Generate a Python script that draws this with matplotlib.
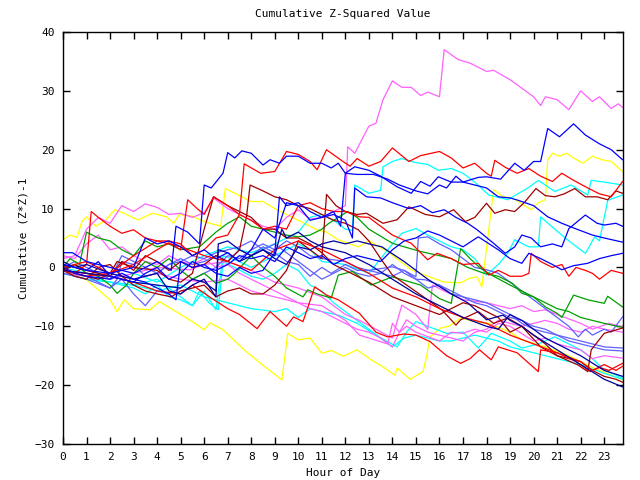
import matplotlib
matplotlib.use("Agg")
import matplotlib.pyplot as plt

# ---- data: (hour, cumulative value) knots ----
m1 = [(0,1.5),(0.5,2),(1,6.5),(1.5,8.5),(2,7.5),(2.5,10.5),(3,9.5),(3.5,10.8),(4,10.2),(4.5,9),(5,9.2),(5.5,8.5),(6,9.3),(6.4,11.8),(7,10),(7.5,9),(8,8),(8.5,7),(9,6.5),(9.5,8.5),(10,9.8),(10.5,8.2),(11,8.5),(11.5,9.5),(12,10.5),(12.1,20.5),(12.4,19.4),(13,24),(13.3,24.5),(13.6,28.5),(14,31.7),(14.4,30.6),(14.8,30.6),(15.2,29.2),(15.5,29.8),(16,29),(16.2,37),(16.8,35.3),(17.3,34.7),(18,33.3),(18.3,33.5),(19,31.9),(20,29),(20.3,27.5),(20.5,29),(21,28.5),(21.5,26.8),(22,30),(22.5,28.2),(22.8,29),(23.3,27),(23.6,27.8),(23.78,27.2)]
m2 = [(0,-0.5),(1,-1),(2,-2),(3,-1),(4,0),(5,-0.3),(5.4,-0.4),(6,0.5),(7,1),(8,-0.5),(9,-2.5),(10,-3.5),(11,-5),(12,-8),(12.6,-9),(13.3,-10.5),(14,-12),(14.4,-6.4),(15,-8),(15.5,-10.5),(15.7,-3),(16.2,-4),(17,-5.5),(18,-6),(19,-7),(19.5,-6.5),(20,-7.5),(20.5,-7.2),(21,-8),(22,-9.5),(22.5,-10.5),(23.2,-9.5),(23.78,-10.1)]
m3 = [(0,-1),(1,-1.5),(2,-1),(3,-2),(4,-1),(5,-2),(6,-2.5),(7,-2),(8,-4),(9,-5),(10,-6),(11,-6.5),(12,-9),(12.6,-11.5),(13.8,-13),(14,-9.5),(14.3,-11),(14.6,-10),(15,-11),(16,-12.5),(16.5,-11),(17,-11.2),(17.5,-10.5),(18,-11),(18.5,-9.5),(19,-10),(20,-12.5),(20.5,-12),(21,-13),(21.5,-13.5),(22,-14),(22.5,-15.5),(23,-15),(23.78,-15.4)]
m4 = [(0,2),(0.5,1.5),(1,4),(1.5,5.5),(2,3),(2.5,3.5),(3,2),(3.5,1),(4,0.5),(4.5,2),(5,1),(5.5,0.5),(6,1.5),(6.5,0),(7,0.5),(7.5,-1),(8,-2),(8.5,-3),(9,-4),(9.5,-5),(10,-6),(10.5,-7),(11,-7.5),(11.5,-8.5),(12,-9.5),(12.5,-10.5),(13,-11),(13.5,-12),(14,-13.5),(14.3,-11),(14.6,-8.9),(15,-10),(15.5,-11),(16,-11.5),(16.5,-12),(17,-12.5),(17.5,-11),(18,-10.5),(18.5,-9),(19,-9.5),(19.5,-10),(20,-9.5),(20.5,-9),(21,-9.5),(21.5,-10.5),(22,-11),(22.5,-10),(23,-10.5),(23.78,-11)]
b1 = [(0,2.5),(0.4,2.5),(1,1),(2,0),(3,-1),(4,1),(4.6,-0.5),(4.8,7),(5.3,6),(5.8,4),(6,14),(6.3,13.5),(6.8,16),(7,19.5),(7.3,18.6),(7.6,19.8),(8,19.4),(8.5,17.4),(8.8,18.3),(9.2,17.7),(9.5,18.9),(10,18.9),(10.5,17.7),(11,17.7),(11.4,16.9),(11.7,17.7),(12,16),(12.4,17.1),(13,16.5),(13.5,15.5),(14.2,13.7),(14.8,12.6),(15.2,14.6),(15.6,13.8),(15.95,15.4),(16.5,14.5),(17,14.5),(17.65,15.3),(18,15.4),(18.6,15),(19.2,17.7),(19.6,16.5),(20,18),(20.3,18),(20.6,23.6),(21.1,22.2),(21.7,24.4),(22.2,22.5),(22.8,21),(23.3,20),(23.78,18.3)]
b2 = [(0,0),(0.5,-1),(1,-1.5),(2,-2),(2.5,-1),(3,-2),(3.5,-2.5),(4,-3.5),(4.5,-4.5),(4.8,-5.5),(5,1),(5.5,0),(6,0.5),(6.5,-1),(7,-1.5),(7.5,0),(8,-1),(8.5,-0.5),(9,2.5),(9.2,12),(9.5,10.5),(10,11),(10.5,9.5),(11,8.5),(11.5,9),(12,8),(12.3,5),(12.4,13.5),(12.9,12),(13.5,11.8),(14,11),(14.7,10),(15.2,10.5),(15.7,9.3),(16.2,9.8),(16.7,8.5),(17.2,7.5),(17.6,6.4),(18.3,4.1),(18.8,2.4),(19.2,3.5),(19.5,5.5),(19.9,5),(20.3,3.5),(20.8,4),(21.2,3.5),(21.5,6.6),(22.2,8.9),(22.7,7.5),(23,7.2),(23.5,7.5),(23.78,7)]
b3 = [(0,0.5),(1,-0.5),(2,-1),(3,0),(3.5,5),(4,4),(4.5,4.5),(5,3.5),(5.5,2),(6,3),(6.5,1.5),(7,2.5),(7.5,1),(8,3),(8.5,6.5),(9,5),(9.5,11),(10,10.5),(10.5,8),(11,8.5),(11.5,9.5),(11.8,7),(12,16),(12.5,15.8),(13.2,15.8),(13.8,15),(14.3,14),(15,13),(15.5,12.5),(16,14),(16.3,13.5),(16.7,15.5),(17,14.5),(17.5,14),(18,13.5),(18.5,12),(19,11.8),(19.35,11.4),(20,10.5),(20.6,8.6),(21.2,7.5),(21.9,6.4),(22.5,5.5),(23,5),(23.78,4.3)]
b4 = [(0,0.5),(0.5,0),(1,-0.5),(1.5,1),(2,-1.5),(2.5,-2),(3,-2.5),(3.5,-1),(4,0),(4.5,-2),(5,-1),(5.5,1),(6,0),(6.5,-0.5),(7,0.5),(7.5,2),(8,1.5),(8.5,2),(9,1),(9.5,3.5),(10,2.5),(10.5,1.5),(11,2),(11.5,0.5),(12,1.5),(12.5,2),(13,1.5),(13.5,1),(14,3),(14.5,4.5),(15,5),(15.5,6.2),(16,5.5),(16.5,4.5),(17,3.5),(17.65,5.2),(18.5,3),(19,1.5),(19.5,0.7),(19.8,2.4),(20.3,1.5),(20.8,0.5),(21.2,-0.4),(21.7,0.3),(22.3,0.7),(22.8,1.5),(23.3,2),(23.78,2.4)]
n1 = [(0,-0.5),(1,-1),(2,-1.5),(3,-2.5),(4,-3),(5,-3.5),(5.5,-2),(6,-2.5),(6.5,-4),(6.6,4),(7,4.5),(7.5,3),(8,2),(8.5,3),(9,1.5),(9.5,0.5),(10,3.5),(10.5,3),(11,4),(11.5,4.5),(12,4),(12.5,4.5),(13,4),(13.55,3.5),(14.5,1),(15.5,-2),(16.5,-4.5),(17.2,-6),(18,-8.9),(18.7,-8.1),(19,-9),(19.5,-10),(20,-11.5),(21,-14),(22,-16.5),(23,-19),(23.78,-20.3)]
n2 = [(0,1),(0.5,0),(1,0.5),(2,-1),(3,-2),(4,-1),(4.5,-4),(5,-4.5),(5.5,-3),(6,-2),(6.5,-5),(6.6,3),(7,2.5),(7.5,1),(8,2),(8.5,3),(9,2),(9.3,6.5),(9.5,5),(10,6),(10.5,4.5),(11,3.5),(11.5,3),(12,2.5),(13,0.5),(14,-2),(15,-4.5),(16,-6.5),(17,-8.5),(18,-10),(18.5,-10.5),(19,-8),(19.5,-9),(20,-10.5),(20.5,-12),(21,-13),(22,-15),(23,-17.5),(23.78,-18.5)]
r1 = [(0,0),(0.5,-1),(1,0.5),(1.2,9.5),(1.5,8.5),(2,7),(2.5,5.8),(3,6.4),(3.5,5),(4,4.5),(4.5,4.5),(5,4),(5.5,2),(6,3),(6.5,5),(7,5.5),(7.5,9),(7.7,17.6),(8.4,16),(9,16.3),(9.5,19.7),(10,19.2),(10.5,18),(10.8,16.6),(11.2,20),(11.9,18),(12.2,17.2),(12.5,18.5),(13,17.2),(13.5,18),(14,20.3),(14.7,18),(15.2,19),(16,19.7),(16.5,18.6),(17,16.9),(17.5,17.7),(18,16),(18.2,15.5),(18.35,18.2),(18.8,17),(19.3,16),(19.8,16.8),(20.3,15.5),(20.8,14.6),(21.2,16),(21.7,14.8),(22.3,13.5),(22.8,12.5),(23.3,12),(23.78,14.6)]
r2 = [(0,-0.5),(1,-1.5),(2,-1),(3,0.5),(4,3),(4.5,4.2),(5,3),(5.3,11.5),(5.7,10),(6,9),(6.4,12),(7,10.5),(7.5,9),(8,8),(8.5,6.5),(9,7),(9.5,6.5),(10,10.5),(10.5,11),(11,10),(11.5,9.5),(12,9.5),(12.6,8.6),(13,8.5),(13.5,7),(14,5.5),(14.8,4.1),(15.5,1.3),(15.9,2.4),(16.5,1.5),(17,0.5),(17.65,0.7),(18.1,-1.3),(18.5,-0.5),(19,-1.5),(19.5,-1.5),(19.8,-1),(19.9,2.4),(20.3,1),(20.8,0),(21.2,0.5),(21.5,-1.5),(21.8,0),(22.2,-0.5),(22.5,-1),(22.8,-2),(23.3,-0.5),(23.78,-1)]
r3 = [(0,-0.5),(1,-1),(2,-1.5),(3,-2.5),(4,-4),(5,-4.5),(5.5,-3),(6.3,-5.2),(7,-7),(7.5,-8),(8.25,-10.4),(8.8,-7.5),(9.5,-10),(9.8,-8.4),(10.2,-9.2),(10.7,-3.3),(11.2,-4.7),(11.7,-5.5),(12.6,-7.8),(13.3,-11),(13.8,-11.8),(14.5,-11.3),(15,-11.5),(15.6,-12.6),(16.3,-15),(16.9,-16.3),(17.3,-15.5),(17.7,-14),(18.2,-15.7),(18.5,-13.5),(19.3,-14.5),(20.2,-17.7),(20.3,-14),(21,-14.5),(21.8,-16),(22.4,-17.7),(22.8,-17),(23.2,-17.5),(23.78,-16.3)]
r4 = [(0,0),(1,1),(2,-1),(3,2),(4,4.5),(4.5,4),(5,3.5),(6,2),(7,1),(8,-0.5),(9,3),(10,4.5),(11,3),(12,1),(13,-1),(14,-3.5),(15,-5),(16,-7),(17,-8.5),(18,-9.5),(19,-11.5),(20,-13),(21,-14.5),(22,-16),(22.5,-17.5),(23,-16.5),(23.5,-17.5),(23.78,-16.8)]
d1 = [(0,-0.5),(0.5,-1.5),(1,-2),(1.5,0),(2,0.5),(2.5,-1.5),(3,-3),(3.5,-4),(4,-4.5),(4.6,-5),(5,-4),(5.5,-3.5),(6,-3),(6.5,-5),(7,-4),(7.5,-3.5),(8,-4.5),(8.5,-4.5),(9,-3),(9.5,-0.5),(10,4.5),(10.5,3),(11,1.5),(11.2,12.4),(11.6,10.5),(12,9.5),(12.5,9),(12.9,9.2),(13.6,7.5),(14.2,8.1),(14.7,10.3),(15.4,9),(16,8.6),(16.6,9.8),(17.1,7.8),(17.5,8.5),(18,10.9),(18.35,9.2),(18.8,9.8),(19.2,9.5),(19.6,11),(20.1,13.4),(20.5,12.2),(20.9,12),(21.3,12.5),(21.75,13.4),(22.2,12),(22.7,12),(23.15,11.5),(23.5,13),(23.78,12.6)]
d2 = [(0,-0.5),(0.5,0.5),(1,-0.5),(1.5,-1),(2,-1.5),(2.5,1),(3,-0.5),(3.5,2),(4,1),(4.5,-0.5),(5,1),(5.5,0),(6,0.5),(6.5,2),(7,1),(7.5,3),(7.8,8.6),(7.95,14),(8.5,13),(9,12),(9.5,11.5),(10,10.5),(10.5,10),(11,9),(11.5,8),(12,7.5),(12.55,6.4),(13,4.5),(13.5,1.5),(14,-1.3),(15,-4.1),(16.1,-7.2),(16.7,-9.8),(16.9,-8.9),(17.65,-7.5),(18.3,-9.5),(18.9,-8.6),(19.5,-10),(20.3,-13.5),(21,-15),(21.9,-16.6),(22.3,-17.7),(22.45,-14),(23,-11.2),(23.78,-10.3)]
d3 = [(0,0),(0.5,-1),(1,-1.5),(1.5,-2),(2,-1),(2.3,1),(3,0),(4,-0.5),(4.5,-2),(5,-2.5),(5.5,-1),(6,6.5),(6.4,12),(7,10.5),(7.5,9.5),(8,8.5),(8.5,6.5),(9,6.5),(9.5,5),(10,5),(10.5,4),(11,2.5),(11.5,0.5),(12,-0.5),(13,-2.5),(14,-5),(15,-6.5),(16,-8),(17,-6),(17.5,-6.5),(18,-7.5),(18.5,-8.5),(19,-11),(19.5,-10),(20,-11.5),(20.5,-13),(21,-15),(21.5,-15.5),(22,-16),(22.5,-17.5),(23,-18.5),(23.5,-19),(23.78,-19.5)]
g1 = [(0,0),(0.3,1.5),(0.7,0.5),(1,6),(1.5,5),(2,4.5),(2.5,3),(3,2),(3.5,4.5),(4,3.5),(4.5,4),(5,3),(5.8,3.5),(6.5,6),(7,7.5),(7.5,8.6),(8,7),(8.5,6.5),(9,6),(9.5,5.5),(10,5.2),(10.5,5.5),(11,6.5),(11.3,7.5),(12.1,9.5),(12.5,8.5),(13,6.5),(14,4.1),(14.5,3.5),(15.2,2.7),(16,2),(16.5,1.5),(17.2,0),(17.9,-1),(18.5,-1.5),(19.1,-2.7),(19.5,-4.4),(20,-5),(20.5,-6.7),(21,-7.8),(21.2,-8.5),(21.7,-4.7),(22.3,-5.5),(23,-6.1),(23.15,-4.9),(23.78,-6.7)]
g2 = [(0,-0.5),(0.5,0.5),(1,-1),(1.5,-1.5),(2,-3),(2.3,-4.4),(2.7,-3),(3,-1),(3.5,1),(4,0),(4.5,1.5),(5,-0.5),(5.5,-2),(6,-1),(6.5,-2.7),(7,-2),(7.3,-1),(8,2),(8.5,0),(9,-1.5),(9.5,-3.5),(10.2,-5),(10.4,-3.8),(10.8,-4.5),(11.4,-5.2),(11.7,-1.3),(12.3,-0.7),(13.1,-3),(14,-1.6),(15.2,-3),(16,-5.3),(16.5,-6.1),(16.9,3.2),(17.3,1.5),(17.7,0),(18.3,-1.5),(19,-3),(19.5,-4),(20,-5),(20.5,-6),(21,-7),(21.5,-7.5),(22,-8.5),(22.5,-9),(23,-9.5),(23.78,-10.2)]
c1 = [(0,0),(1,-1),(2,-2),(3,-1),(4,-2.5),(5,0),(6,2),(7,3.5),(8,2.5),(9,4),(10,6),(10.5,8.5),(11,9),(11.5,8),(12,6.5),(12.3,6.3),(12.4,14),(13,12.6),(13.5,13.1),(13.6,17.1),(14,18),(14.4,18.5),(15,17.8),(15.5,17.5),(15.95,16.5),(16.5,16.8),(17,16),(17.5,14.5),(18.1,12.3),(18.9,11.5),(19.8,13.6),(20.2,14.8),(20.9,12.9),(21.6,14),(22.3,12.3),(22.45,14.8),(23,14.5),(23.78,14)]
c2 = [(0,-1),(1,-2),(2,-2.5),(3,-3),(4,-2),(5,-5),(5.5,-6.5),(6,-4),(6.5,-7.2),(6.8,2),(7.5,1),(8,0),(9,2),(10,4),(10.5,3),(11,1),(12,0.5),(13,-1),(14,4),(14.4,5.8),(15,6.6),(15.5,5.5),(16,4.5),(16.5,3.5),(17,3),(17.5,1.5),(18,-1.3),(18.5,0.5),(18.9,2.4),(19.2,4.7),(19.8,3.5),(20.2,3.5),(20.3,8.6),(20.9,6.5),(21.5,4.5),(22.2,2.4),(22.6,5.2),(22.8,4.5),(23.15,11.4),(23.78,12.3)]
c3 = [(0,-1),(1,-1.5),(2,-2.5),(3,-3),(4,-4),(5,-3),(6,-5),(7,-6),(8,-7),(9,-7.5),(9.5,-7),(10,-8.5),(10.5,-7),(11,-7.5),(11.7,-8.1),(12.5,-9.5),(13.3,-11.5),(14.2,-13.5),(14.6,-11),(15,-9.2),(15.5,-10),(16.3,-11.2),(17,-11),(17.65,-13.7),(18.2,-11.2),(19,-12.5),(19.5,-13.7),(20.2,-13),(20.9,-11.8),(22,-14),(22.5,-15.5),(23,-17.4),(23.78,-18.8)]
c4 = [(0,0),(0.5,-1.5),(1,-2),(2,-2.5),(3,-3.5),(3.5,-4.5),(4,-3),(4.5,-5),(5,-5.5),(5.5,-6.5),(5.8,-4),(6.2,-6),(6.6,-7.2),(6.8,1),(7.3,0),(8,-1.5),(8.5,-2),(9,-1),(9.5,0.5),(10,-0.5),(10.5,-3),(11,-4),(11.5,-6),(12,-7.5),(12.5,-9),(13,-10.5),(13.5,-12),(14,-13.5),(14.5,-12),(15,-11.5),(15.5,-12),(16,-12.5),(16.5,-12.5),(17,-12),(17.5,-11.5),(18,-12),(18.5,-12.5),(19,-13.5),(19.5,-14),(20,-14.5),(21,-15.5),(22,-16.5),(23,-18),(23.78,-19)]
y1 = [(0,-0.5),(1,-2.1),(2,-5.5),(2.3,-7.5),(2.6,-5.5),(3,-7),(3.7,-7.2),(4.1,-5.8),(4.8,-7.5),(5.5,-9.2),(6,-10.6),(6.25,-9.4),(6.8,-10.6),(7.7,-14),(8.4,-16.3),(9.3,-19.1),(9.55,-11.2),(10,-12.3),(10.5,-12),(11,-14.6),(11.4,-14.1),(11.9,-15.1),(12.5,-14),(13.1,-15.7),(13.6,-16.9),(14.1,-18.3),(14.2,-17.1),(14.75,-19),(15.3,-17.7),(15.45,-15.2),(15.6,-11.8),(16.05,-10.3),(16.4,-10),(16.9,-8.6),(17.5,-9.2),(18.1,-9.5),(19,-11),(19.5,-12.3),(20.5,-13.5),(21.5,-15),(22.5,-17),(23.78,-19.1)]
y2 = [(0,4.7),(0.3,5.5),(0.6,5.1),(0.8,7.8),(1,8.6),(1.4,7),(1.8,8),(2.2,9.8),(2.6,9.2),(3,8.4),(3.2,8.1),(3.8,9.2),(4.4,8.6),(4.7,7.5),(4.95,9),(5.5,8.7),(6,7.8),(6.7,7),(6.9,13.4),(7.6,12),(8,11.2),(8.5,11.2),(9,10),(9.5,9),(10,8),(10.8,6.4),(11.2,6),(11.7,4.7),(12.55,3.5),(13,4.5),(13.8,2.7),(14.8,-0.4),(15.5,-1.5),(16.2,-2.5),(16.9,-2.6),(17.3,-1.8),(17.6,-1.6),(17.8,-3.3),(18.3,13.2),(18.7,12),(19.1,11.8),(19.5,10.8),(19.9,9.8),(20.2,11),(20.5,11.5),(20.6,18.3),(20.8,19.4),(21.1,18.9),(21.4,19.4),(21.7,18.6),(22.1,17.7),(22.5,18.9),(22.9,18.3),(23.3,18),(23.78,16.3)]
s1 = [(0,-1),(1,-2),(2,-3.5),(2.3,-2),(2.5,1),(3,0.5),(3.5,-1.5),(4,-1),(4.5,0.5),(5,1.5),(5.5,0.5),(6,1),(6.5,2),(7,1),(7.5,3),(8,2),(8.5,3.5),(9,2.5),(9.5,1),(10,0.5),(10.5,-1.5),(11,0),(11.4,-1),(12,0.5),(12.5,-0.5),(13,-0.5),(14,0.1),(14.5,-0.5),(15,-1.6),(15.1,5),(15.5,5.2),(16,4),(16.5,3),(17,1.5),(17.5,0),(18,-0.4),(18.5,-1),(19,-2.5),(19.5,-4),(20,-5.5),(20.5,-7),(21,-8.5),(21.5,-10),(21.9,-11.8),(22.2,-10.5),(22.5,-11.5),(23,-10.5),(23.3,-11),(23.78,-8.4)]
s2 = [(0,-0.5),(0.5,-1),(1,-1.5),(1.5,-2.5),(2,-3.5),(2.5,-2),(3,-4.5),(3.5,-6.5),(3.8,-5),(4,-4),(4.5,-4.5),(5,-3.5),(5.5,-2),(6,-1),(6.5,0),(7,2),(7.5,1.5),(8,3),(8.5,4),(9,3),(9.5,4.5),(10,3.5),(10.5,2),(11,1.5),(11.5,1.3),(12,1),(12.5,0),(13,-0.5),(13.5,-1),(14,0.5),(14.5,-1),(15,-2),(15.4,-2.1),(16,-3),(16.5,-4),(17,-5),(17.5,-5.5),(18,-6),(18.5,-7),(19,-8),(19.5,-9.5),(20,-10.5),(20.5,-11),(21,-11.5),(21.5,-12),(22,-12.5),(22.5,-13),(23,-13.5),(23.78,-13.7)]
s3 = [(0,0),(0.5,1),(1,0),(1.5,-1),(2,-2),(2.5,2),(3,1),(3.5,0),(4,-1),(4.5,0.5),(5,1),(5.5,2),(6,1.5),(6.5,2.5),(7,3),(7.5,3.5),(8,4.5),(8.5,3),(9,4),(9.5,2.5),(10,1),(10.5,-0.5),(11,-2),(11.5,-1),(12,0),(12.5,-1),(13,-1.5),(13.5,-1),(14,-1.5),(14.5,-0.5),(15,-2),(15.5,-3.5),(16,-3),(16.5,-4.5),(17,-5),(17.5,-6),(18,-6.5),(18.5,-7.5),(19,-8.5),(19.5,-9),(20,-10),(20.5,-10.5),(21,-11.5),(21.5,-12.5),(22,-13),(22.5,-13.5),(23,-14),(23.78,-14.2)]

RED, GREEN, BLUE, MAGENTA, CYAN = "#ff0000", "#00a000", "#0000ff", "#ff60ff", "#00ffff"
DARKRED, NAVY, YELLOW, SLATE = "#a00000", "#0000a0", "#ffff00", "#6060ff"

series = [
    (y1, YELLOW), (y2, YELLOW), (c1, CYAN), (c2, CYAN), (c3, CYAN), (c4, CYAN),
    (m1, MAGENTA), (m2, MAGENTA), (m3, MAGENTA), (m4, MAGENTA),
    (s1, SLATE), (s2, SLATE), (s3, SLATE),
    (g1, GREEN), (g2, GREEN),
    (d1, DARKRED), (d2, DARKRED), (d3, DARKRED),
    (r1, RED), (r2, RED), (r3, RED), (r4, RED),
    (n1, NAVY), (n2, NAVY), (b1, BLUE), (b2, BLUE), (b3, BLUE), (b4, BLUE),
]

x_ticks = list(range(0, 24))
y_ticks = list(range(-30, 41, 10))

plt.rcParams['font.family'] = ['DejaVu Sans Mono']
fig = plt.figure(figsize=(6.4, 4.8), dpi=100)
ax = fig.add_axes([63/640, 36/480, 560/640, 412/480])

for pts, col in series:
    xs = [p[0] for p in pts]
    ys = [p[1] for p in pts]
    ax.plot(xs, ys, color=col, lw=0.9, antialiased=True)

ax.set_xlim(0, 23.8)
ax.set_ylim(-30, 40)
ax.set_xticks(x_ticks)
ax.set_yticks(y_ticks)
ax.tick_params(direction='in', length=5, width=1, top=True, right=True,
               labelsize=8, pad=6, colors='black')
for sp in ax.spines.values():
    sp.set_linewidth(1)
ax.set_title("Cumulative Z-Squared Value", fontsize=8, pad=11)
ax.set_xlabel("Hour of Day", fontsize=8, labelpad=4)
ax.set_ylabel("Cumulative (Z*Z)-1", fontsize=8, labelpad=4)

fig.savefig("out.png", dpi=100)
